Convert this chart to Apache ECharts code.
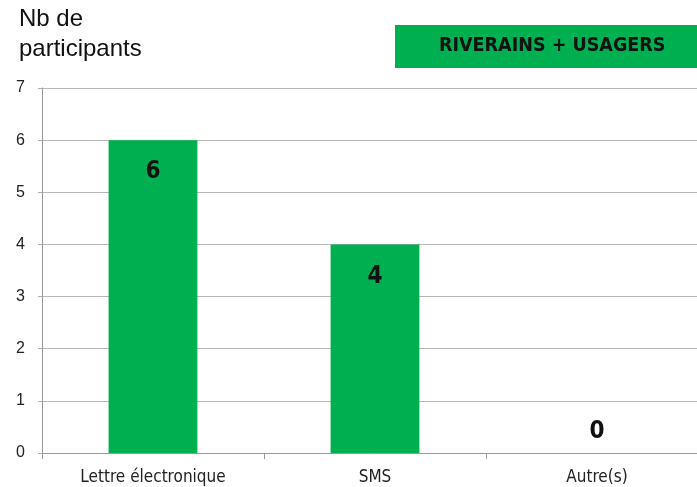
<!DOCTYPE html>
<html>
<head>
<meta charset="utf-8">
<script src="https://cdn.jsdelivr.net/npm/echarts@6/dist/echarts.min.js"></script>
<style>
  html, body { margin: 0; padding: 0; background: #fff; }
  #chart { width: 697px; height: 487px; }
</style>
</head>
<body>
<div id="chart"></div>
<script>
// données
const categories = ['Lettre électronique', 'SMS', 'Autre(s)'];
const participants = [6, 4, 0];
const yTicks = [0, 1, 2, 3, 4, 5, 6, 7];
const seriesName = 'RIVERAINS + USAGERS';

(function () {
	let myChart = echarts.init(document.getElementById('chart'));
	const green = '#00B050';
	const option = {
		animation: false,
		title: {
			text: 'Nb de\nparticipants',
			left: 14,
			top: -1,
			textStyle: {
				fontFamily: 'Liberation Sans',
				fontWeight: 'normal',
				fontSize: 24,
				lineHeight: 30,
				color: '#111'
			}
		},
		// encadré vert de la légende
		graphic: [
			{
				type: 'rect',
				left: 395,
				top: 25,
				shape: { width: 310, height: 43 },
				style: { fill: green }
			},
			{
				type: 'text',
				left: 439,
				top: 36,
				style: {
					text: seriesName,
					fontFamily: 'DejaVu Sans Condensed',
					fontWeight: 'bold',
					fontSize: 19.5,
					fill: '#111'
				}
			}
		],
		grid: {
			left: 42,
			top: 88,
			bottom: 34,
			width: 666,
			outerBoundsMode: 'none',
			containLabel: false
		},
		xAxis: {
			type: 'category',
			data: categories,
			axisLine: { lineStyle: { color: '#999', width: 1 } },
			axisTick: { show: true, length: 6, lineStyle: { color: '#999' } },
			axisLabel: {
				margin: 16,
				fontFamily: 'DejaVu Sans Condensed',
				fontSize: 17,
				color: '#222'
			}
		},
		yAxis: {
			type: 'value',
			min: yTicks[0],
			max: yTicks[yTicks.length - 1],
			interval: 1,
			axisLine: { show: true, lineStyle: { color: '#999' } },
			axisTick: { show: true, length: 4, lineStyle: { color: '#aaa' } },
			axisLabel: {
				margin: 17,
				fontFamily: 'Liberation Sans',
				fontSize: 16,
				color: '#222'
			},
			splitLine: { lineStyle: { color: '#b8b8b8', width: 1 } }
		},
		series: [
			{
				name: seriesName,
				type: 'bar',
				barWidth: '40%',
				itemStyle: { color: green },
				label: {
					show: true,
					position: 'insideTop',
					distance: 20,
					fontFamily: 'DejaVu Sans Condensed',
					fontWeight: 'bold',
					fontSize: 24,
					color: '#111'
				},
				data: participants.map(function (v) {
					// valeur nulle : étiquette au-dessus de l'axe
					return v === 0 ? { value: v, label: { position: 'top', distance: 9 } } : v;
				})
			}
		]
	};
	myChart.setOption(option);
})();
</script>
</body>
</html>
